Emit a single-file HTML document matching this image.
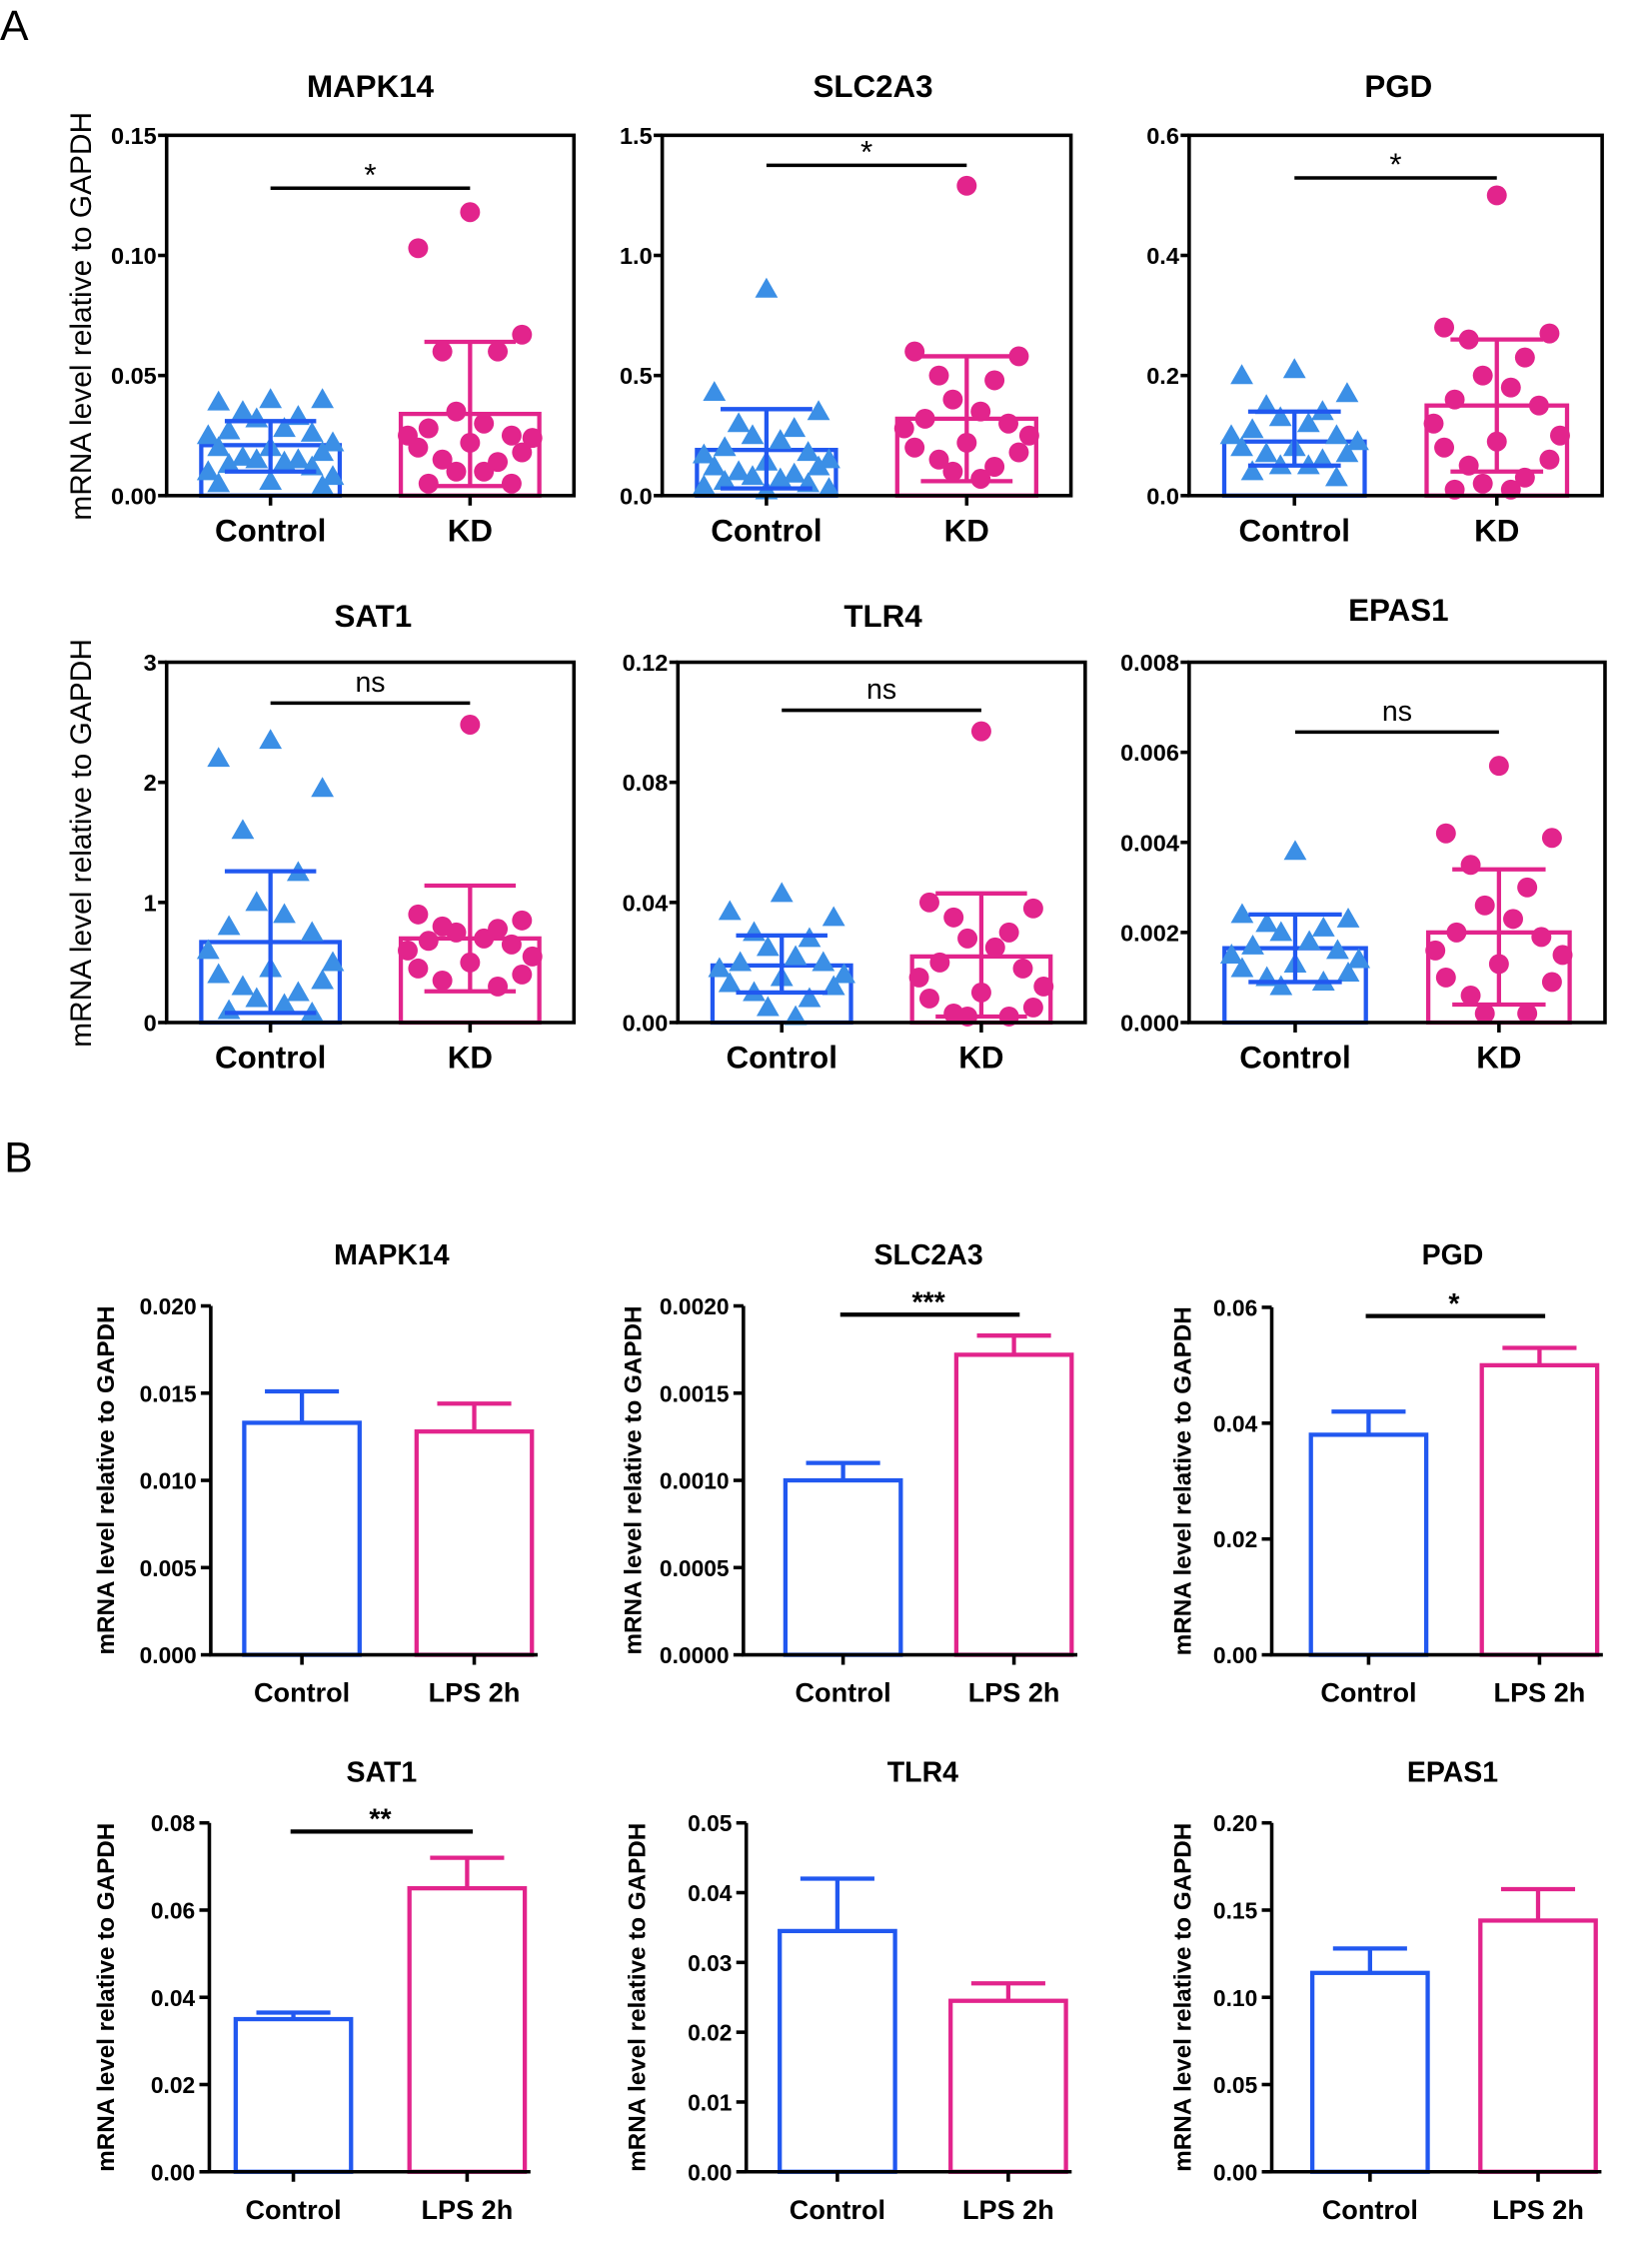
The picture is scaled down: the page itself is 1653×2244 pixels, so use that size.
<!DOCTYPE html>
<html><head><meta charset="utf-8"><style>
html,body{margin:0;padding:0;background:#fff}
svg{display:block}
text{font-family:"Liberation Sans",Arial,sans-serif}
</style></head><body>
<svg id="fig" width="1653" height="2244" viewBox="0 0 1160 1575" preserveAspectRatio="none" xmlns="http://www.w3.org/2000/svg">
<rect width="1160" height="1575" fill="#fff"/>
<text x="0" y="28" font-size="30">A</text>
<text x="3" y="823" font-size="30">B</text>
<text transform="translate(64,222) rotate(-90)" font-size="21" text-anchor="middle">mRNA level relative to GAPDH</text>
<text transform="translate(64,592) rotate(-90)" font-size="21" text-anchor="middle">mRNA level relative to GAPDH</text>
</svg>
<script>
// ---------- Panel A data ----------
const aGenes = ["MAPK14","SLC2A3","PGD","SAT1","TLR4","EPAS1"];
const aMax = [0.15,1.5,0.6,3,0.12,0.008];
const aTicks0 = ["0.00","0.05","0.10","0.15"];
const aTicks1 = ["0.0","0.5","1.0","1.5"];
const aTicks2 = ["0.0","0.2","0.4","0.6"];
const aTicks3 = ["0","1","2","3"];
const aTicks4 = ["0.00","0.04","0.08","0.12"];
const aTicks5 = ["0.000","0.002","0.004","0.006","0.008"];
const aCtrl0 = [0.04,0.039,0.04,0.035,0.033,0.032,0.028,0.027,0.026,0.025,0.022,0.02,0.02,0.018,0.016,0.015,0.015,0.014,0.013,0.012,0.01,0.008,0.006,0.005,0.004];
const aKD0 = [0.118,0.103,0.067,0.06,0.06,0.035,0.03,0.028,0.025,0.025,0.024,0.022,0.02,0.018,0.015,0.014,0.01,0.01,0.005,0.005];
const aCtrl1 = [0.86,0.43,0.35,0.3,0.28,0.25,0.23,0.2,0.18,0.17,0.15,0.14,0.12,0.12,0.1,0.09,0.08,0.07,0.06,0.05,0.04,0.03,0.02];
const aKD1 = [1.29,0.6,0.58,0.5,0.48,0.4,0.35,0.32,0.3,0.28,0.25,0.22,0.2,0.18,0.15,0.12,0.1,0.07];
const aCtrl2 = [0.21,0.2,0.17,0.15,0.14,0.13,0.12,0.11,0.1,0.1,0.09,0.08,0.08,0.07,0.07,0.06,0.05,0.05,0.04,0.03];
const aKD2 = [0.5,0.28,0.27,0.26,0.23,0.2,0.18,0.16,0.15,0.12,0.1,0.09,0.08,0.06,0.05,0.03,0.02,0.01,0.01];
const aCtrl3 = [2.35,2.2,1.95,1.6,1.25,1.0,0.9,0.8,0.75,0.6,0.5,0.45,0.4,0.35,0.3,0.25,0.2,0.15,0.1,0.08];
const aKD3 = [2.48,0.9,0.85,0.8,0.78,0.75,0.7,0.68,0.65,0.6,0.55,0.5,0.45,0.4,0.35,0.3];
const aCtrl4 = [0.043,0.037,0.035,0.03,0.028,0.025,0.022,0.02,0.02,0.018,0.016,0.015,0.013,0.012,0.01,0.008,0.005,0.002];
const aKD4 = [0.097,0.04,0.038,0.035,0.03,0.028,0.025,0.02,0.018,0.015,0.012,0.01,0.008,0.005,0.003,0.002,0.002];
const aCtrl5 = [0.0038,0.0024,0.0023,0.0022,0.0021,0.002,0.0018,0.0017,0.0016,0.0015,0.0014,0.0013,0.0012,0.0011,0.001,0.0009,0.0008];
const aKD5 = [0.0057,0.0042,0.0041,0.0035,0.003,0.0026,0.0023,0.002,0.0019,0.0016,0.0015,0.0013,0.001,0.0009,0.0006,0.0002,0.0002];
const aMeanCtrl = [0.021,0.19,0.09,0.67,0.019,0.00165];
const aLoCtrl = [0.01,0.03,0.05,0.08,0.01,0.0009];
const aHiCtrl = [0.031,0.36,0.14,1.26,0.029,0.0024];
const aMeanKD = [0.034,0.32,0.15,0.70,0.022,0.002];
const aLoKD = [0.004,0.06,0.04,0.26,0.002,0.0004];
const aHiKD = [0.064,0.58,0.26,1.14,0.043,0.0034];
const aSig = ["*","*","*","ns","ns","ns"];
const aSigY = [0.128,1.375,0.529,2.66,0.104,0.00645];

// ---------- Panel B data ----------
const bGenes = ["MAPK14","SLC2A3","PGD","SAT1","TLR4","EPAS1"];
const bMax = [0.02,0.002,0.06,0.08,0.05,0.2];
const bTicks0 = ["0.000","0.005","0.010","0.015","0.020"];
const bTicks1 = ["0.0000","0.0005","0.0010","0.0015","0.0020"];
const bTicks2 = ["0.00","0.02","0.04","0.06"];
const bTicks3 = ["0.00","0.02","0.04","0.06","0.08"];
const bTicks4 = ["0.00","0.01","0.02","0.03","0.04","0.05"];
const bTicks5 = ["0.00","0.05","0.10","0.15","0.20"];
const bCtrl = [0.0133,0.001,0.038,0.035,0.0345,0.114];
const bCtrlErr = [0.0018,0.0001,0.004,0.0015,0.0075,0.014];
const bLPS = [0.0128,0.00172,0.050,0.065,0.0245,0.144];
const bLPSErr = [0.0016,0.00011,0.003,0.007,0.0025,0.018];
const bSig = ["","***","*","**","",""];
const bSigY = [0,0.00195,0.0585,0.078,0,0];

const aTicks=[aTicks0,aTicks1,aTicks2,aTicks3,aTicks4,aTicks5];
const aCtrl=[aCtrl0,aCtrl1,aCtrl2,aCtrl3,aCtrl4,aCtrl5];
const aKD=[aKD0,aKD1,aKD2,aKD3,aKD4,aKD5];
const bTicks=[bTicks0,bTicks1,bTicks2,bTicks3,bTicks4,bTicks5];

const svg=document.getElementById('fig');
const NS="http://www.w3.org/2000/svg";
function mk(tag,attrs,parent,txt){const e=document.createElementNS(NS,tag);for(const k in attrs)e.setAttribute(k,attrs[k]);if(txt!==undefined)e.textContent=txt;(parent||svg).appendChild(e);return e;}
const BLUE="#2158f0", LBLUE="#3b8fe6", PINK="#e2248c";

// Panel A layout
const aBox=[{l:117,r:403,t:95,b:348,tx:260,ty:68},{l:465,r:752,t:95,b:348,tx:613,ty:68},{l:835,r:1125,t:95,b:348,tx:982,ty:68},
 {l:117,r:403,t:465,b:718,tx:262,ty:440},{l:476,r:762,t:465,b:718,tx:620,ty:440},{l:835,r:1127,t:465,b:718,tx:982,ty:436}];
aGenes.forEach((g,i)=>{
  const B=aBox[i];
  const grp=mk('g',{});
  
  
  const y=v=>B.b-(v/aMax[i])*(B.b-B.t);
  const w=B.r-B.l;
  const cx=[B.l+w*0.255,B.l+w*0.745];
  const bw=w*0.34;
  const t=mk('text',{x:B.tx,y:B.ty,'font-size':22,'font-weight':'bold','text-anchor':'middle'},grp,g);
  
  
  const n=aTicks[i].length;
  aTicks[i].forEach((lab,k)=>{
    const v=aMax[i]*k/(n-1), yy=y(v);
    mk('line',{x1:B.l-6,x2:B.l,y1:yy,y2:yy,stroke:'#000','stroke-width':2.5},grp);
    const tl=mk('text',{x:B.l-7,y:yy+6,'font-size':16.5,'font-weight':'bold','text-anchor':'end'},grp,lab);
    
    
  });
  const series=[[aCtrl[i],aMeanCtrl[i],aLoCtrl[i],aHiCtrl[i],BLUE,LBLUE,'tri','Control'],[aKD[i],aMeanKD[i],aLoKD[i],aHiKD[i],PINK,PINK,'dot','KD']];
  series.forEach((s,j)=>{
    const bar=mk('rect',{x:cx[j]-bw/2,y:y(s[1]),width:bw,height:B.b-y(s[1]),fill:'none',stroke:s[4],'stroke-width':3},grp);
    
    
    const offs=[0,-0.75,0.75,-0.4,0.4,-0.2,0.2,-0.6,0.6,-0.9,0.9];
    s[0].forEach((v,k)=>{
      const px=cx[j]+offs[k%offs.length]*bw*0.5, py=y(v);
      let m;
      if(s[6]==='tri') m=mk('polygon',{points:`${px},${py-8} ${px-8},${py+6} ${px+8},${py+6}`,fill:s[5]},grp);
      else m=mk('circle',{cx:px,cy:py,r:7,fill:s[5]},grp);
      
      
    });
    const cw=bw*0.33;
    mk('path',{d:`M${cx[j]},${y(s[2])}V${y(s[3])}M${cx[j]-cw},${y(s[3])}H${cx[j]+cw}M${cx[j]-cw},${y(s[2])}H${cx[j]+cw}`,stroke:s[4],'stroke-width':3,fill:'none'},grp);
    mk('line',{x1:cx[j],x2:cx[j],y1:B.b,y2:B.b+7,stroke:'#000','stroke-width':2.5},grp);
    const cl=mk('text',{x:cx[j],y:B.b+32,'font-size':22,'font-weight':'bold','text-anchor':'middle'},grp,s[7]);
    
    
  });
  const fr=mk('rect',{x:B.l,y:B.t,width:w,height:B.b-B.t,fill:'none',stroke:'#000','stroke-width':2.5},grp);
  
  
  const sy=y(aSigY[i]);
  mk('line',{x1:cx[0],x2:cx[1],y1:sy,y2:sy,stroke:'#000','stroke-width':2.5},grp);
  const st=mk('text',{x:(cx[0]+cx[1])/2,y:aSig[i]==='*'?sy-2:sy-8,'font-size':aSig[i]==='*'?22:20,'text-anchor':'middle'},grp,aSig[i]);
  
  
});

// Panel B layout
const bBox=[{ax:148,t:917,b:1162,c0:212,c1:333,tx:275,ty:888,yt:80},{ax:522,t:917,b:1162,c0:592,c1:712,tx:652,ty:888,yt:450},{ax:893,t:918,b:1162,c0:961,c1:1081,tx:1020,ty:888,yt:836},
 {ax:147,t:1280,b:1525,c0:206,c1:328,tx:268,ty:1251,yt:80},{ax:524,t:1280,b:1525,c0:588,c1:708,tx:648,ty:1251,yt:453},{ax:893,t:1280,b:1525,c0:962,c1:1080,tx:1020,ty:1251,yt:836}];
bGenes.forEach((g,i)=>{
  const B=bBox[i];
  const grp=mk('g',{});
  
  
  const y=v=>B.b-(v/bMax[i])*(B.b-B.t);
  const bw=81;
  const t=mk('text',{x:B.tx,y:B.ty,'font-size':20,'font-weight':'bold','text-anchor':'middle'},grp,g);
  
  
  const yt=mk('text',{transform:`translate(${B.yt},${(B.t+B.b)/2}) rotate(-90)`,'font-size':17,'font-weight':'bold','text-anchor':'middle'},grp,'mRNA level relative to GAPDH');
  
  
  const n=bTicks[i].length;
  bTicks[i].forEach((lab,k)=>{
    const v=bMax[i]*k/(n-1), yy=y(v);
    mk('line',{x1:B.ax-7,x2:B.ax,y1:yy,y2:yy,stroke:'#000','stroke-width':2.5},grp);
    const tl=mk('text',{x:B.ax-10,y:yy+6,'font-size':16,'font-weight':'bold','text-anchor':'end'},grp,lab);
    
    
  });
  const cx=[B.c0,B.c1];
  const ser=[[bCtrl[i],bCtrlErr[i],BLUE,'Control'],[bLPS[i],bLPSErr[i],PINK,'LPS 2h']];
  ser.forEach((s,j)=>{
    const yv=y(s[0]), ye=y(s[0]+s[1]);
    mk('path',{d:`M${cx[j]},${yv}V${ye}M${cx[j]-26},${ye}H${cx[j]+26}`,stroke:s[2],'stroke-width':3,fill:'none'},grp);
    const bar=mk('rect',{x:cx[j]-bw/2,y:yv,width:bw,height:B.b-yv,fill:'#fff',stroke:s[2],'stroke-width':3},grp);
    
    
    mk('line',{x1:cx[j],x2:cx[j],y1:B.b,y2:B.b+7,stroke:'#000','stroke-width':2.5},grp);
    const cl=mk('text',{x:cx[j],y:B.b+33,'font-size':19,'font-weight':'bold','text-anchor':'middle'},grp,s[3]);
    
    
  });
  mk('path',{d:`M${B.ax},${B.t}V${B.b}H${B.c1+bw/2+4}`,stroke:'#000','stroke-width':2.5,fill:'none'},grp);
  if(bSig[i]){
    const sy=y(bSigY[i]);
    mk('line',{x1:cx[0]-2,x2:cx[1]+4,y1:sy,y2:sy,stroke:'#000','stroke-width':3},grp);
    const st=mk('text',{x:(cx[0]+cx[1])/2,y:sy-2,'font-size':20,'font-weight':'bold','text-anchor':'middle'},grp,bSig[i]);
    
    
  }
});
</script>
</body></html>
